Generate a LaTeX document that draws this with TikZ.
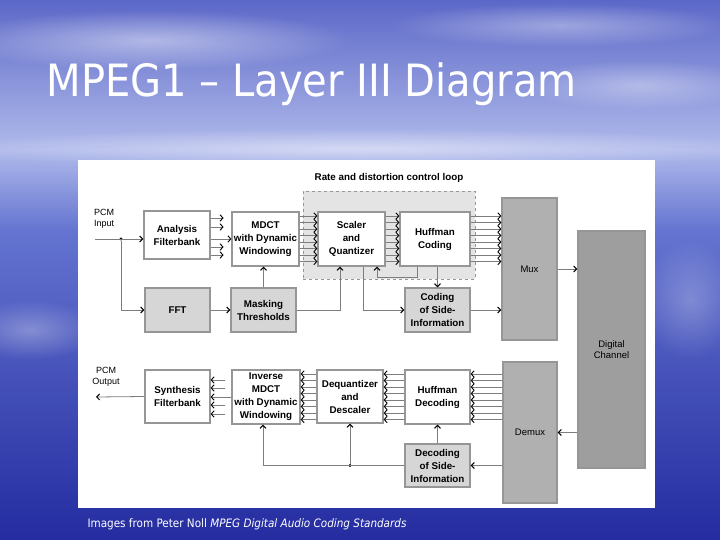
\documentclass[tikz,border=0pt]{standalone}
\usepackage{fontspec}
\setmainfont{Liberation Sans}
\newfontfamily\slidefont{DejaVu Sans Condensed}
\usepackage{tikz}
\usetikzlibrary{arrows.meta, positioning, calc, fadings}
\definecolor{skytop}{RGB}{92,104,200}
\definecolor{skyband}{RGB}{176,186,235}
\definecolor{skylow}{RGB}{100,116,208}
\definecolor{skybot}{RGB}{36,44,160}
\definecolor{boxline}{RGB}{150,150,150}
\definecolor{lightbox}{RGB}{214,214,214}
\definecolor{muxgray}{RGB}{176,176,176}
\definecolor{changray}{RGB}{158,158,158}
\definecolor{loopgray}{RGB}{228,228,228}
\definecolor{wire}{RGB}{125,125,125}
\tikzfading[name=softcloud, inner color=transparent!0, outer color=transparent!100]

\begin{document}
\begin{tikzpicture}[x=1pt, y=-1pt,
  blk/.style 2 args={draw=boxline, line width=1.2pt, fill=white, minimum width=#1, minimum height=#2,
                     inner sep=0pt, align=center, font=\bfseries\fontsize{9.8}{13}\selectfont},
  gblk/.style 2 args={blk={#1}{#2}, fill=lightbox},
  mbox/.style 2 args={blk={#1}{#2}, fill=muxgray, font=\fontsize{9.5}{11.5}\selectfont},
  lbl/.style={inner sep=0pt, font=\fontsize{9}{10.5}\selectfont},
  dot/.style={circle, fill=black, inner sep=0pt, minimum size=3.2pt},
  cloud/.style={white, path fading=softcloud},
  arr/.style={wire, line width=0.8pt, -{Straight Barb[black, length=3pt, width=6pt, line width=1pt]}},
  sub/.style={wire, line width=0.6pt, -{Straight Barb[black, length=3pt, width=6.5pt, line width=0.9pt]}}
]
\useasboundingbox (0,0) rectangle (720,540);
\shade[top color=skytop, bottom color=skyband] (0,0) rectangle (720,150);
\shade[top color=skyband, bottom color=skylow] (0,150) rectangle (720,230);
\shade[top color=skylow, bottom color=skybot] (0,230) rectangle (720,540);
\fill[cloud, opacity=0.45] (150,40) ellipse (200 and 30);
\fill[cloud, opacity=0.35] (560,25) ellipse (170 and 22);
\fill[cloud, opacity=0.35] (640,85) ellipse (120 and 25);
\fill[cloud, opacity=0.45] (360,148) ellipse (420 and 20);
\fill[cloud, opacity=0.3] (30,330) ellipse (70 and 30);
\fill[cloud, opacity=0.25] (690,300) ellipse (50 and 60);
\fill[white] (78,160) rectangle (655,508);

\node[anchor=base west, text=white, font=\slidefont\fontsize{44.5}{48}\selectfont] (title) at (43,97) {MPEG1 – Layer III Diagram};
\node[anchor=base west, text=white, font=\slidefont\fontsize{11.6}{13}\selectfont] (credit) at (84,527)
  {Images from Peter Noll \textit{MPEG Digital Audio Coding Standards}};

\node[draw=boxline, dashed, fill=loopgray, line width=0.8pt, minimum width=172, minimum height=88] (loop) at (389,235) {};
\node[lbl, font=\bfseries\fontsize{9.8}{11}\selectfont, above=8pt of loop] (looptxt) {Rate and distortion control loop};

\node[blk={66}{48}]  (ana)   at (177,235)   {Analysis\\Filterbank};
\node[blk={67}{54}]  (mdct)  at (265.5,239) {MDCT\\with Dynamic\\Windowing};
\node[gblk={65}{44}] (fft)   at (177.5,310) {FFT};
\node[gblk={65}{44}] (mask)  at (263.5,310) {Masking\\Thresholds};
\node[blk={67}{54}]  (scal)  at (351.5,239) {Scaler\\and\\Quantizer};
\node[blk={70}{54}]  (huff)  at (435,239)   {Huffman\\Coding};
\node[gblk={65}{44}] (side)  at (437.5,310) {Coding\\of Side-\\Information};
\node[mbox={55}{142}] (mux)  at (529.5,269) {Mux};
\node[mbox={67}{237}, fill=changray] (chan) at (611.5,349.5) {Digital\\Channel};
\node[mbox={54}{141}] (demux) at (530,432.5) {Demux};
\node[blk={65}{53}]  (synth) at (177.5,396.5) {Synthesis\\Filterbank};
\node[blk={68}{54}]  (imdct) at (266,397)   {Inverse\\MDCT\\with Dynamic\\Windowing};
\node[blk={66}{53}]  (deq)   at (350,396.5) {Dequantizer\\and\\Descaler};
\node[blk={65}{54}]  (hdec)  at (437.5,397) {Huffman\\Decoding};
\node[gblk={65}{43}] (dside) at (437.5,465.5) {Decoding\\of Side-\\Information};

\node[lbl, anchor=west, align=left] (pcmin) at (94,219) {PCM\\Input};
\node[lbl, align=center] (pcmout) at (106,377) {PCM\\Output};
\coordinate (src) at (95,239);
\coordinate (sink) at (96,397);
\node[dot] (split) at (121,239) {};
\node[dot] (tap) at (deq.south |- dside.west) {};

\draw[arr] (src) -- (src -| ana.west);
\draw[arr] (split) |- (fft.west);
\draw[arr] (fft) -- (mask);
\draw[arr] (mask.north) -- (mask.north |- mdct.south);
\foreach \y in {218,227,247,255} \draw[sub] (ana.east |- 0,\y) -- ++(13,0);
\draw[sub] (ana.east |- mdct.west) -- (mdct.west);
\foreach \y in {216,222.5,...,262} {
  \draw[sub] (mdct.east |- 0,\y) -- (scal.west |- 0,\y);
  \draw[sub] (scal.east |- 0,\y) -- (huff.west |- 0,\y);
  \draw[sub] (huff.east |- 0,\y) -- (mux.west |- 0,\y);
}
\draw[arr] (mask.east) -| ([xshift=-11.5pt]scal.south);
\draw[arr] ([xshift=-18pt]huff.south) -- ++(0,11) -| ([xshift=25.5pt]scal.south);
\draw[arr] ([xshift=11.5pt]scal.south) |- (side.west);
\draw[arr] (side.north |- huff.south) -- (side.north);
\draw[arr] (side.east) -- (side.east -| mux.west);
\draw[arr] (mux.east) -- (mux.east -| chan.west);

\draw[arr] (chan.west |- demux.east) -- (demux.east);
\draw[arr] (demux.west |- dside.east) -- (dside.east);
\draw[arr] (dside.north) -- (dside.north |- hdec.south);
\draw[arr] (dside.west) -| ([xshift=-3pt]imdct.south);
\draw[arr] (tap) -- (deq.south);
\foreach \y in {374,380.5,...,420} {
  \draw[sub] (demux.west |- 0,\y) -- (hdec.east |- 0,\y);
  \draw[sub] (hdec.west |- 0,\y) -- (deq.east |- 0,\y);
  \draw[sub] (deq.west |- 0,\y) -- (imdct.east |- 0,\y);
}
\foreach \y in {380,388,405,414} \draw[sub] (imdct.west |- 0,\y) ++(-6,0) -- (synth.east |- 0,\y);
\draw[sub] (imdct.west) -- (imdct.west -| synth.east);
\draw[arr] (synth.west) -- (sink);
\end{tikzpicture}
\end{document}
